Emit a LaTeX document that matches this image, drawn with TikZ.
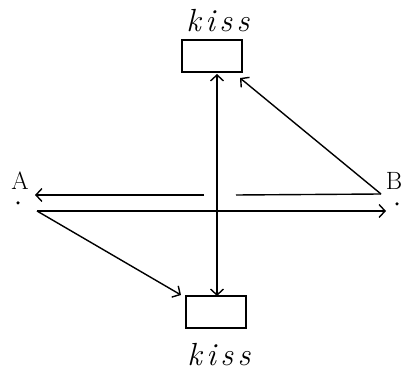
\documentclass[tikz,border=0pt]{standalone}
\usepackage{fontspec}
\usetikzlibrary{arrows.meta}
\newfontfamily\kissfont[LetterSpace=14]{Latin Modern Roman}
\begin{document}
\begin{tikzpicture}[x=1pt,y=-1pt,
  line width=1.4pt,
  tip/.style={-{Straight Barb[length=6pt,width=13pt,line width=1.4pt]}},
  dtip/.style={{Straight Barb[length=6pt,width=13pt,line width=1.4pt]}-{Straight Barb[length=6pt,width=13pt,line width=1.4pt]}},
  kbox/.style={draw,line width=2pt,minimum width=60pt,minimum height=32pt,inner sep=0pt},
  kisslabel/.style={font=\kissfont\itshape\fontsize{32}{32}\selectfont,inner sep=0pt},
  ptlabel/.style={font=\fontsize{25}{25}\selectfont,inner sep=0pt},
  pt/.style={circle,fill,inner sep=0pt,minimum size=3.5pt}]
\useasboundingbox (0,0) rectangle (405,371);
% boxes and labels
\node[kbox] (top) at (212,56) {};
\node[kbox] (bot) at (216,312) {};
\node[kisslabel] (ktop) at (218,21) {kiss};
\node[kisslabel] (kbot) at (219,355) {kiss};
% points
\node[pt] (A) at (18,203) {};
\node[pt] (B) at (397,204) {};
\node[ptlabel] (Alab) at (20,181) {A};
\node[ptlabel] (Blab) at (394,181) {B};
% connector end points
\coordinate (Bs) at (381,194);
\coordinate (As) at (37,211);
\coordinate (Ae) at (35,195);
\coordinate (Be) at (386,211);
\coordinate (g1) at (236,195);
\coordinate (g2) at (204,195);
\coordinate (vt) at (217,74);
\coordinate (vb) at (217,296);
\coordinate (te) at (240,78);
\coordinate (be) at (181,295);
% upper line B -> A with gap
\draw (Bs) -- (g1);
\draw[tip] (g2) -- (Ae);
% lower line A -> B
\draw[tip] (As) -- (Be);
% vertical double arrow
\draw[dtip] (vt) -- (vb);
% B -> top box
\draw[tip] (Bs) -- (te);
% A -> bottom box
\draw[tip] (As) -- (be);
\end{tikzpicture}
\end{document}
